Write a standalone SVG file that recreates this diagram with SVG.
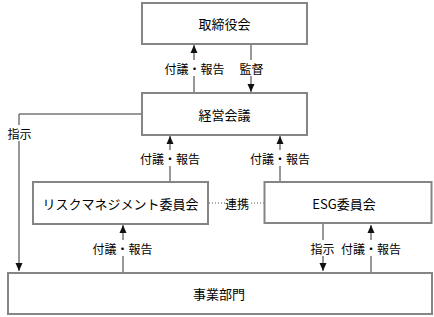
<svg xmlns="http://www.w3.org/2000/svg" width="434" height="317" viewBox="0 0 434 317">
<style>
.box{fill:#fff;stroke:#858585;stroke-width:2}
.edge{fill:none;stroke:#7a7a7a;stroke-width:1}
.t{font-family:"Noto Sans CJK JP","Noto Sans",sans-serif;font-size:13px;fill:#000;text-anchor:middle;dominant-baseline:central}
.c{stroke:#333;stroke-width:1;fill:none}
.dot{stroke:#555;stroke-width:1;stroke-dasharray:1 2;fill:none}
.lbg{fill:#fff}
.l{font-family:"Noto Sans CJK JP","Noto Sans",sans-serif;font-size:12px;fill:#000;text-anchor:middle;dominant-baseline:central}
</style>
<defs>
<marker id="ah" viewBox="0 0 8 8" refX="8" refY="4" markerWidth="8" markerHeight="8" markerUnits="userSpaceOnUse" orient="auto">
<path d="M0,0.5 L8,4 L0,7.5 Z" fill="#111"/>
</marker>
</defs>
<rect width="434" height="317" fill="#fff"/>
<g id="connectors">
<line class="c" x1="194" y1="93" x2="194" y2="45" marker-end="url(#ah)"/>
<line class="c" x1="251" y1="44" x2="251" y2="92" marker-end="url(#ah)"/>
<polyline class="c" points="141,114 19,114 19,271" marker-end="url(#ah)"/>
<line class="c" x1="170" y1="182" x2="170" y2="136" marker-end="url(#ah)"/>
<line class="c" x1="280" y1="182" x2="280" y2="136" marker-end="url(#ah)"/>
<line class="dot" x1="209" y1="203" x2="264" y2="203"/>
<line class="c" x1="123" y1="272" x2="123" y2="225" marker-end="url(#ah)"/>
<line class="c" x1="323" y1="224" x2="323" y2="271" marker-end="url(#ah)"/>
<line class="c" x1="371" y1="272" x2="371" y2="225" marker-end="url(#ah)"/>
<rect class="lbg" x="165" y="60" width="59" height="16"/>
<text class="l" x="194.5" y="68">付議・報告</text>
<rect class="lbg" x="239" y="60" width="25" height="16"/>
<text class="l" x="251.5" y="68">監督</text>
<rect class="lbg" x="7" y="125" width="25" height="16"/>
<text class="l" x="19.5" y="133">指示</text>
<rect class="lbg" x="140" y="150" width="60" height="16"/>
<text class="l" x="170" y="158">付議・報告</text>
<rect class="lbg" x="250" y="150" width="60" height="16"/>
<text class="l" x="280" y="158">付議・報告</text>
<rect class="lbg" x="225" y="195" width="24" height="16"/>
<text class="l" x="237" y="203">連携</text>
<rect class="lbg" x="92" y="240" width="61" height="16"/>
<text class="l" x="122.5" y="248">付議・報告</text>
<rect class="lbg" x="311" y="240" width="24" height="16"/>
<text class="l" x="322.5" y="248">指示</text>
<rect class="lbg" x="341" y="240" width="60" height="16"/>
<text class="l" x="371" y="248">付議・報告</text>
</g>
<g id="node-board">
<rect class="box" x="142" y="3" width="165" height="41"/>
<text class="t" x="224.5" y="23.5">取締役会</text>
</g>
<g id="node-mgmt">
<rect class="box" x="142" y="93" width="165" height="42"/>
<text class="t" x="224.5" y="114">経営会議</text>
</g>
<g id="node-risk">
<rect class="box" x="33" y="182" width="175" height="42"/>
<text class="t" x="120.5" y="203">リスクマネジメント委員会</text>
</g>
<g id="node-esg">
<rect class="box" x="264.5" y="182" width="167" height="41"/>
<text class="t" x="344" y="203">ESG委員会</text>
</g>
<g id="node-biz">
<rect class="box" x="8" y="273" width="424" height="41"/>
<text class="t" x="219" y="293.5">事業部門</text>
</g>
</svg>
